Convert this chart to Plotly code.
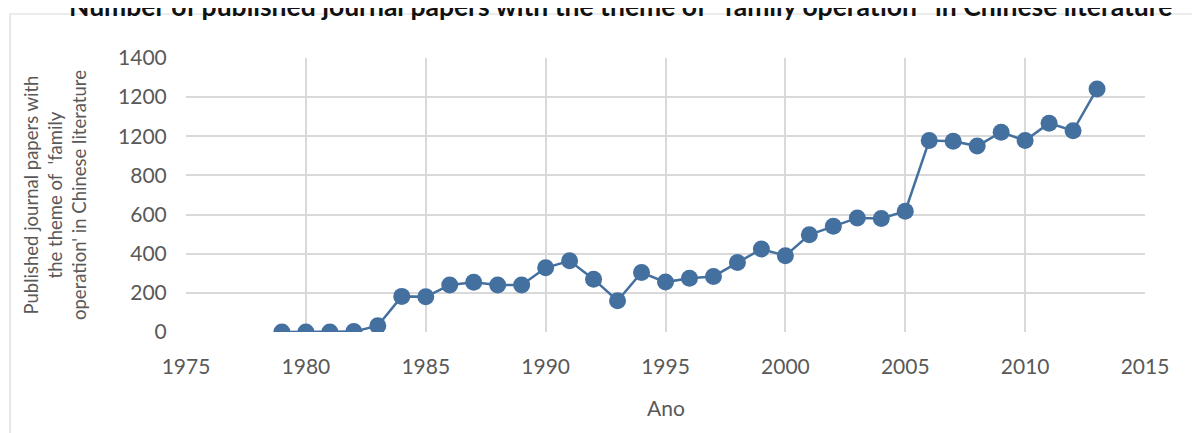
import plotly.graph_objects as go

years = list(range(1979, 2014))
papers = [0, 0, 0, 2, 32, 182, 180, 240, 254, 240, 240, 328, 364, 270, 160,
          304, 255, 275, 284, 355, 424, 390, 497, 540, 583, 580, 617,
          978, 975, 950, 1021, 978, 1067, 1028, 1242]

y_tickvals = [0, 200, 400, 600, 800, 1000, 1200, 1400]
y_ticktext = ["0", "200", "400", "600", "800", "1200", "1200", "1400"]
x_tickvals = [1975, 1980, 1985, 1990, 1995, 2000, 2005, 2010, 2015]

title_text = "Number of published journal papers with the theme of  'family operation'  in Chinese literature"
y_title = "Published journal papers with<br>the theme of  'family<br>operation' in Chinese literature"
x_title = "Ano"

FONT = "Lato, 'Open Sans', sans-serif"
GRID = "#d9d9d9"
TXT = "#595959"
BLUE = "#44709f"

fig = go.Figure(go.Scatter(
    x=years, y=papers, mode="lines+markers",
    line=dict(color=BLUE, width=2.5),
    marker=dict(color=BLUE, size=17),
    showlegend=False,
))

OFF = 8  # page body margin
W, H = 1200, 433
L, T = 186 - OFF, 58 - OFF
pw, ph = 959, 274
R = W - L - pw
B = H - T - ph

def px_x(p):
    return (p - OFF - L) / pw

def px_y(p):
    return (T + ph - (p - OFF)) / ph

fig.update_layout(
    width=W, height=H,
    margin=dict(l=L, r=R, t=T, b=B, autoexpand=False),
    paper_bgcolor="white", plot_bgcolor="white",
    font=dict(family=FONT, color=TXT),
    xaxis=dict(range=[1975, 2015], tickvals=x_tickvals, showgrid=True,
               gridcolor=GRID, gridwidth=1.5, zeroline=False, showline=False,
               ticks="outside", ticklen=16, tickcolor="rgba(0,0,0,0)",
               tickfont=dict(size=21, color=TXT, family=FONT)),
    yaxis=dict(range=[0, 1400], tickvals=y_tickvals, ticktext=y_ticktext,
               showgrid=True, gridcolor=GRID, gridwidth=1.5, zeroline=False,
               showline=False, ticks="outside", ticklen=14,
               tickcolor="rgba(0,0,0,0)",
               tickfont=dict(size=21, color=TXT, family=FONT)),
    shapes=[dict(type="rect", xref="paper", yref="paper",
                 x0=px_x(10), x1=px_x(1215), y0=px_y(450), y1=px_y(14),
                 line=dict(color="#d9d9d9", width=1.2), fillcolor="rgba(0,0,0,0)",
                 layer="below")],
    annotations=[
        dict(text="<b>" + title_text + "</b>", xref="paper", yref="paper",
             x=px_x(620), y=px_y(6), xanchor="center", yanchor="middle",
             showarrow=False,
             font=dict(size=26.5, color="#111111", family=FONT)),
        dict(text=y_title, xref="paper", yref="paper", x=px_x(55), y=0.5,
             xanchor="center", yanchor="middle", textangle=-90, showarrow=False,
             font=dict(size=18.5, color=TXT, family=FONT), align="center"),
        dict(text=x_title, xref="paper", yref="paper", x=0.5, y=px_y(408),
             xanchor="center", yanchor="middle", showarrow=False,
             font=dict(size=21, color=TXT, family=FONT)),
    ],
)

fig.write_html("out.html")
